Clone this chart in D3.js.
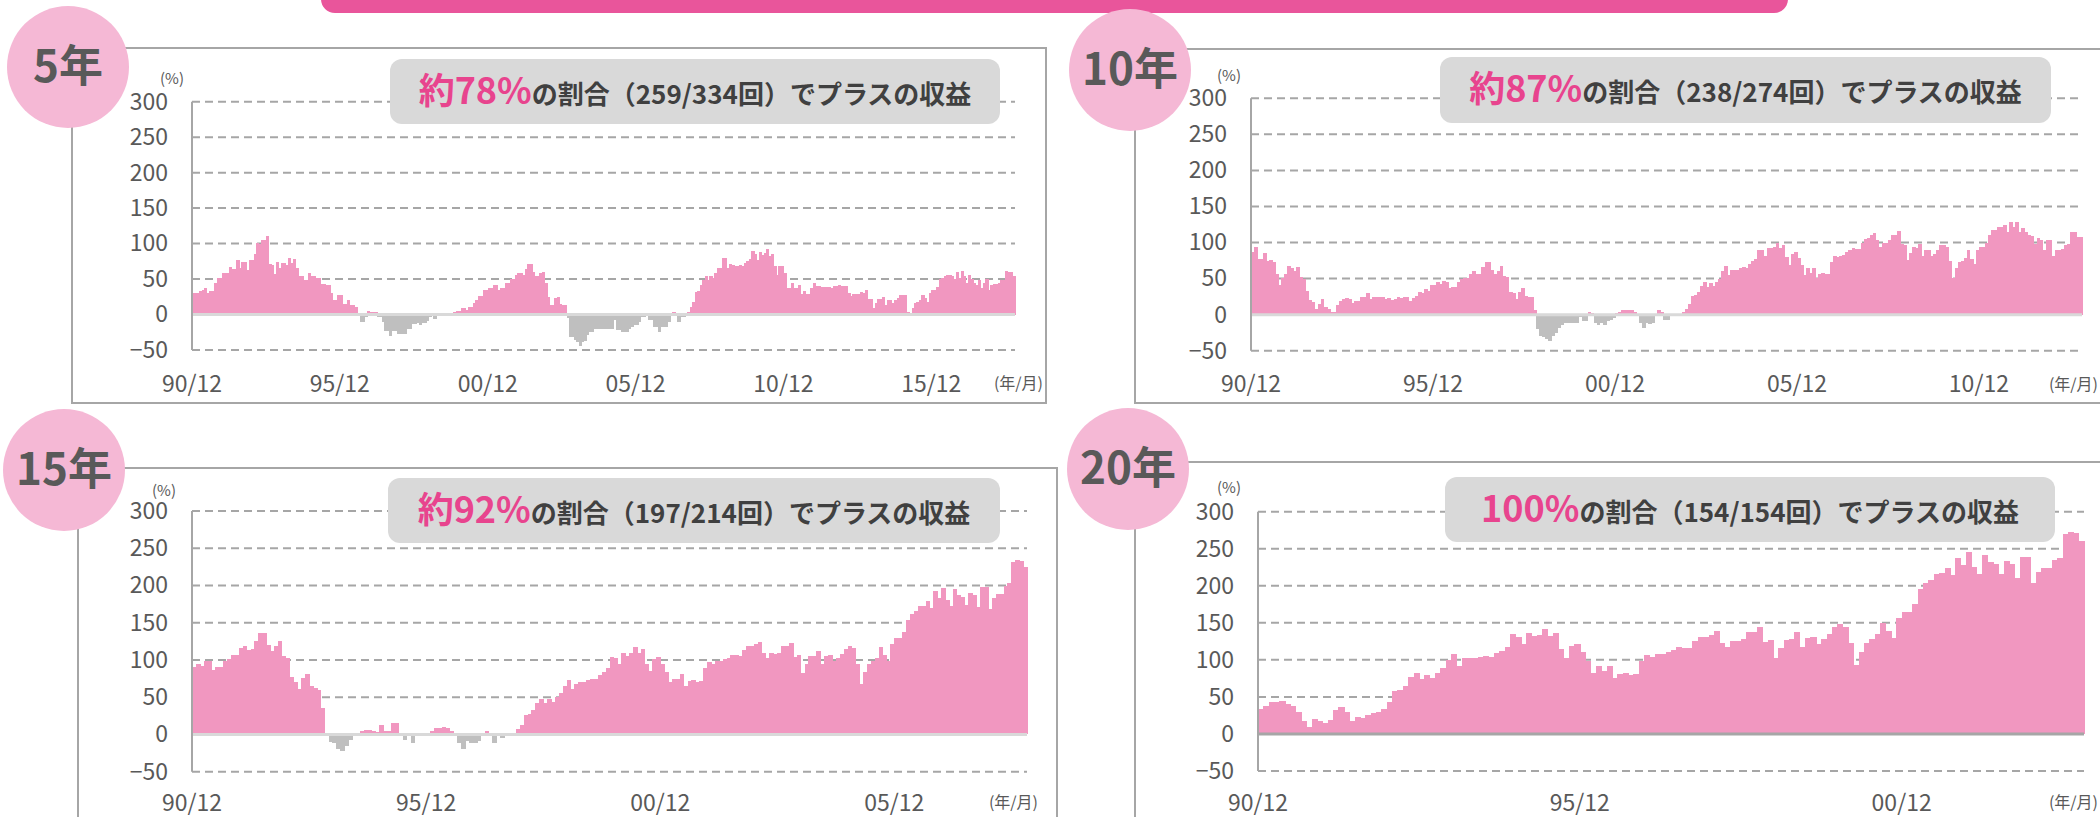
<!DOCTYPE html>
<html>
<head>
<meta charset="utf-8">
<script src="https://cdn.jsdelivr.net/npm/d3@7"></script>
<style>
  html, body { margin: 0; padding: 0; background: #ffffff; }
  svg { display: block; }
  text { font-family: "Noto Sans CJK JP", "Noto Sans", sans-serif; }
</style>
</head>
<body>
<div id="chart"></div>
<script>
// Rolling returns by holding period

// Section 1: Data

// 5 year holding, monthly start 90/12 ... (%)
var ret5 = [
  31, 30, 30, 33, 34, 38, 30, 33, 33, 44,
  52, 52, 59, 59, 59, 67, 64, 64, 77, 66,
  74, 74, 63, 77, 77, 85, 101, 99, 105, 105,
  111, 71, 70, 57, 74, 65, 72, 72, 70, 79,
  73, 78, 65, 55, 55, 49, 49, 58, 55, 55,
  52, 51, 43, 43, 41, 41, 30, 20, 20, 27,
  27, 15, 15, 20, 13, 13, 10, 1, -11, -11,
  -3, 5, 3, 3, 4, -4, -4, -11, -23, -23,
  -30, -23, -23, -27, -27, -28, -28, -20, -20, -14,
  -14, -12, -15, -12, -12, -9, -4, -2, -7, -1,
  0, -1, 0, 1, 0, 1, 3, 5, 5, 9,
  9, 6, 10, 10, 16, 20, 26, 26, 34, 34,
  38, 38, 42, 42, 35, 37, 37, 44, 44, 50,
  50, 56, 59, 59, 56, 64, 71, 71, 60, 55,
  55, 59, 60, 45, 25, 14, 14, 23, 25, 15,
  13, 13, -5, -32, -32, -36, -39, -44, -39, -37,
  -29, -25, -25, -20, -21, -21, -21, -21,
  -20, -20, -20, -8, -22, -22, -25, -25, -25, -20,
  -18, -15, -15, -11, -4, -4, -2, -8, -8, -18,
  -18, -25, -17, -17, -17, -11, 0, 3, 0, -11,
  -4, -4, 1, 3, 10, 18, 32, 33, 41, 49,
  55, 49, 55, 51, 58, 65, 65, 79, 79, 65,
  71, 70, 69, 69, 70, 68, 72, 76, 78, 89,
  86, 77, 88, 84, 87, 92, 83, 86, 69, 56,
  69, 69, 59, 37, 37, 44, 37, 37, 42, 29,
  33, 29, 29, 38, 44, 40, 40, 39, 39, 39,
  39, 37, 40, 40, 41, 40, 40, 40, 30, 26,
  29, 29, 29, 32, 30, 34, 22, 22, 9, 16,
  22, 22, 25, 14, 21, 21, 16, 20, 23, 28,
  27, 27, 3, 0, 9, 16, 18, 21, 28, 23,
  17, 30, 35, 35, 39, 50, 52, 55, 56, 56,
  55, 50, 60, 52, 61, 54, 45, 56, 50, 45,
  42, 49, 37, 45, 50, 35, 42, 43, 43, 45,
  48, 48, 61, 60, 60, 55
];

// 10 year holding
var ret10 = [
  87, 94, 77, 77, 85, 75, 76, 73, 56, 41,
  51, 56, 67, 64, 61, 66, 52, 50, 33, 20,
  18, 8, 15, 22, 11, 8, 4, 4, 13, 19,
  22, 23, 21, 16, 19, 19, 24, 24, 30, 22,
  25, 25, 25, 24, 22, 23, 20, 22, 25, 23,
  25, 25, 19, 23, 26, 31, 30, 35, 33, 41,
  41, 45, 42, 47, 45, 37, 39, 39, 45, 50,
  51, 51, 56, 60, 56, 57, 66, 73, 73, 62,
  56, 61, 67, 53, 52, 32, 30, 21, 32, 37,
  26, 25, 24, 7, -20, -29, -31, -34, -36, -30,
  -25, -18, -15, -12, -12, -12, -11, -11, -3, -9,
  -9, 3, 2, -11, -15, -11, -15, -9, -7, -5,
  2, 4, 6, 7, 6, 6, 3, 1, -11, -19,
  -11, -13, -12, 1, 6, 3, -8,
  -8, -2, 0, 0, 1, 3, 8, 15, 26, 27,
  32, 40, 45, 38, 44, 40, 45, 50, 60, 67,
  55, 62, 62, 62, 64, 66, 65, 70, 74, 77,
  90, 89, 81, 93, 92, 94, 99, 92, 96, 80,
  69, 84, 87, 78, 69, 55, 64, 58, 64, 51,
  56, 58, 56, 57, 73, 81, 80, 82, 83, 87,
  89, 92, 91, 91, 100, 105, 106, 111, 113, 103,
  94, 99, 100, 103, 110, 111, 116, 98, 97, 76,
  86, 94, 93, 98, 81, 89, 89, 81, 84, 89,
  96, 97, 94, 75, 51, 64, 73, 75, 78, 89,
  77, 70, 90, 94, 94, 100, 111, 117, 118, 121,
  122, 125, 115, 128, 121, 128, 114, 120, 114, 111,
  109, 98, 106, 103, 90, 104, 103, 82, 89, 90,
  91, 97, 98, 114, 114, 107, 107
];

// 15 year holding
var ret15 = [
  90, 95, 92, 98, 98, 86, 90, 90, 98, 101,
  107, 107, 116, 119, 114, 115, 126, 136, 136, 120,
  112, 119, 125, 106, 103, 77, 71, 61, 76, 81,
  65, 63, 60, 36, 1, -10, -12, -19, -22, -16,
  -7, 0, 0, 5, 6, 6, 5, 3, 13, 5,
  4, 15, 15, 0, -8, -1, -11, 0, 0, 0,
  2, 5, 9, 9, 10, 8, 5, 0, -11, -19,
  -9, -12, -12, -9, 2, 5, 0, -11, 0, -5,
  0, 0, 2, 7, 13, 26, 27, 33, 42, 47,
  42, 47, 43, 50, 56, 65, 73, 61, 68, 71,
  71, 73, 74, 74, 80, 84, 89,
  104, 102, 94, 109, 106, 110, 118, 109, 115, 95,
  85, 101, 104, 95, 84, 70, 74, 74, 81, 65,
  72, 73, 70, 72, 89, 97, 95, 98, 98, 101,
  103, 107, 107, 106, 113, 119, 119, 121, 124, 109,
  103, 109, 108, 110, 119, 119, 123, 104, 107, 83,
  94, 105, 105, 112, 94, 105, 107, 98, 103, 108,
  115, 119, 116, 95, 68, 84, 94, 98, 103, 117,
  107, 98, 122, 129, 129, 138, 154, 162, 166, 172,
  172, 179, 170, 192, 183, 197, 181, 173, 195, 187,
  185, 174, 190, 187, 171, 198, 198, 168, 183, 188,
  188, 199, 203, 231, 234, 233, 225
];

// 20 year holding
var ret20 = [
  34, 38, 43, 43, 45, 41, 38, 29, 18, 9,
  20, 18, 15, 19, 32, 36, 30, 17, 23, 22,
  26, 28, 29, 34, 43, 58, 59, 65, 77, 82,
  74, 80, 75, 82, 89, 100, 108, 92, 102, 103,
  102, 104, 105, 104, 109, 112, 118, 135, 131, 121,
  136, 132, 134, 142, 132, 136, 114, 102, 119, 121,
  110, 98, 82, 92, 85, 92, 75, 81, 82, 79,
  81, 99, 107, 104, 108, 108, 111,
  113, 117, 116, 116, 126, 131, 131, 134, 139, 123,
  117, 125, 125, 128, 137, 137, 144, 124, 127, 102,
  116, 127, 128, 137, 117, 129, 131, 121, 128, 135,
  144, 148, 145, 123, 93, 111, 123, 128, 135, 150,
  139, 129, 157, 165, 165, 176, 195, 204, 208, 216,
  217, 224, 214, 238, 228, 245, 225, 216, 241, 232,
  229, 216, 233, 229, 210, 239, 239, 204, 219, 224,
  224, 235, 238, 270, 273, 271, 261
];

// Axis ticks
var yTicks = [300, 250, 200, 150, 100, 50, 0, -50];
var xTickLabels = ["90/12", "95/12", "00/12", "05/12", "10/12", "15/12"];
var xTickStep = 60;

// Panel titles and notes
var periodLabels = ["5年", "10年", "15年", "20年"];
var rateLabels = ["約78%", "約87%", "約92%", "100%"];
var countLabels = ["259/334", "238/274", "197/214", "154/154"];
var allSeries = [ret5, ret10, ret15, ret20];

// Section 2: Layout

var width = 2100;
var height = 817;

var pink = "#f197c0";
var grey = "#bfbfbf";
var hotPink = "#e9559b";
var textGrey = "#595959";
var lineGrey = "#a6a6a6";

var layout = [
  { frame: [72, 48, 1046, 403], circle: [68, 67], plot: [192, 1015, 101.7, 350],
    box: [390, 59, 1000, 124], pct: [172, 84], unit: [1043, 389], tickY: 392,
    nTicks: 6, zeroColor: "#d9d9d9" },
  { frame: [1135, 49, 2120, 403], circle: [1130, 70], plot: [1251, 2082, 98.3, 350.7],
    box: [1440, 57, 2051, 123], pct: [1229, 81], unit: [2098, 390], tickY: 392,
    nTicks: 5, zeroColor: "#d9d9d9" },
  { frame: [78, 468, 1057, 840], circle: [64, 470], plot: [192, 1027, 511, 771.7],
    box: [388, 478, 1000, 543], pct: [164, 496], unit: [1038, 808], tickY: 811,
    nTicks: 4, zeroColor: "#d9d9d9" },
  { frame: [1135, 462, 2120, 840], circle: [1128, 469], plot: [1258, 2084, 511.7, 771],
    box: [1445, 477, 2055, 542], pct: [1229, 493], unit: [2098, 808], tickY: 811,
    nTicks: 3, zeroColor: "#a6a6a6" }
];

var svg = d3
  .select("#chart")
  .append("svg")
  .attr("width", width)
  .attr("height", height);

// Top banner
svg
  .append("rect")
  .attr("x", 321)
  .attr("y", -30)
  .attr("width", 1467)
  .attr("height", 43)
  .attr("rx", 14)
  .attr("fill", hotPink);

// Section 3: Panels

layout.forEach(function(p, k) {
  var data = allSeries[k];
  var g = svg.append("g").attr("class", "panel");

  // Frame
  var f = p.frame;
  g.append("rect")
    .attr("x", f[0])
    .attr("y", f[1])
    .attr("width", f[2] - f[0])
    .attr("height", f[3] - f[1])
    .attr("fill", "none")
    .attr("stroke", lineGrey)
    .attr("stroke-width", 2);

  var xScale = d3
    .scaleBand()
    .domain(d3.range(data.length))
    .range([p.plot[0], p.plot[1]])
    .padding(0);

  var yScale = d3
    .scaleLinear()
    .domain([-50, 300])
    .range([p.plot[3], p.plot[2]]);

  // Dashed grid lines
  g.selectAll(".grid")
    .data(yTicks.filter(function(t) { return t !== 0; }))
    .enter()
    .append("line")
    .attr("class", "grid")
    .attr("x1", p.plot[0])
    .attr("x2", p.plot[1])
    .attr("y1", function(d) { return yScale(d); })
    .attr("y2", function(d) { return yScale(d); })
    .attr("stroke", lineGrey)
    .attr("stroke-width", 2)
    .attr("stroke-dasharray", "8,5");

  // Bars (no gap between months)
  g.selectAll(".bar")
    .data(data)
    .enter()
    .append("rect")
    .attr("class", "bar")
    .attr("shape-rendering", "crispEdges")
    .attr("x", function(d, i) { return xScale(i); })
    .attr("width", xScale.bandwidth() + 0.7)
    .attr("y", function(d) { return yScale(Math.max(d, 0)); })
    .attr("height", function(d) { return Math.abs(yScale(d) - yScale(0)); })
    .attr("fill", function(d) { return d >= 0 ? pink : grey; });

  // Zero line
  g.append("line")
    .attr("x1", p.plot[0])
    .attr("x2", p.plot[1])
    .attr("y1", yScale(0))
    .attr("y2", yScale(0))
    .attr("stroke", p.zeroColor)
    .attr("stroke-width", 3);

  // Y axis line
  g.append("line")
    .attr("x1", p.plot[0])
    .attr("x2", p.plot[0])
    .attr("y1", yScale(-50))
    .attr("y2", yScale(300))
    .attr("stroke", lineGrey)
    .attr("stroke-width", 2);

  // Y axis labels
  var yAxis = d3.axisLeft(yScale).tickValues(yTicks).tickSize(0).tickPadding(24);
  var yG = g.append("g")
    .attr("transform", "translate(" + p.plot[0] + ",0)")
    .call(yAxis);
  yG.select(".domain").remove();
  yG.selectAll("text")
    .attr("font-family", "'Noto Sans CJK JP', sans-serif")
    .attr("font-size", 23)
    .attr("fill", textGrey);

  // X axis labels
  var tickIdx = d3.range(p.nTicks).map(function(j) { return j * xTickStep; });
  var xAxis = d3
    .axisBottom(xScale)
    .tickValues(tickIdx)
    .tickFormat(function(d) { return xTickLabels[d / xTickStep]; })
    .tickSize(0)
    .tickPadding(0);
  var xG = g.append("g")
    .attr("transform", "translate(" + (-xScale.bandwidth() / 2) + "," + p.tickY + ")")
    .call(xAxis);
  xG.select(".domain").remove();
  xG.selectAll("text")
    .attr("dy", 0)
    .attr("y", 0)
    .attr("font-family", "'Noto Sans CJK JP', sans-serif")
    .attr("font-size", 23)
    .attr("fill", textGrey);

  // Unit labels
  g.append("text")
    .attr("x", p.pct[0])
    .attr("y", p.pct[1])
    .attr("text-anchor", "middle")
    .attr("font-size", 15)
    .attr("fill", textGrey)
    .text("(%)");

  g.append("text")
    .attr("x", p.unit[0])
    .attr("y", p.unit[1])
    .attr("text-anchor", "end")
    .attr("font-size", 16)
    .attr("fill", textGrey)
    .text("(年/月)");

  // Note box
  var b = p.box;
  g.append("rect")
    .attr("x", b[0])
    .attr("y", b[1])
    .attr("width", b[2] - b[0])
    .attr("height", b[3] - b[1])
    .attr("rx", 12)
    .attr("fill", "#d9d9d9");

  var note = g.append("text")
    .attr("x", (b[0] + b[2]) / 2)
    .attr("y", (b[1] + b[3]) / 2 + 12)
    .attr("text-anchor", "middle")
    .attr("font-weight", "bold");
  note.append("tspan")
    .attr("font-size", 36)
    .attr("fill", "#e8448e")
    .text(rateLabels[k]);
  note.append("tspan")
    .attr("font-size", 26)
    .attr("fill", "#404040")
    .text("の割合（" + countLabels[k] + "回）でプラスの収益");

  // Period circle
  g.append("circle")
    .attr("cx", p.circle[0])
    .attr("cy", p.circle[1])
    .attr("r", 61)
    .attr("fill", "#f5b8d5");

  g.append("text")
    .attr("x", p.circle[0])
    .attr("y", p.circle[1] + 15)
    .attr("text-anchor", "middle")
    .attr("font-size", 44)
    .attr("font-weight", "bold")
    .attr("fill", textGrey)
    .text(periodLabels[k]);
});
</script>
</body>
</html>
